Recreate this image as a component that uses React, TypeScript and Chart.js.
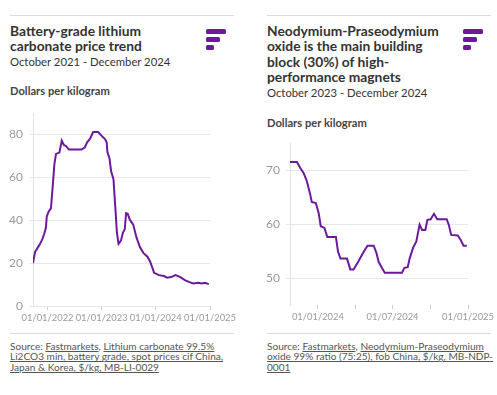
import React, { useEffect, useRef } from 'react';
import { Chart, registerables } from 'chart.js';

Chart.register(...registerables);

const FONT = 'Lato, "Noto Sans", sans-serif';
const PURPLE = '#6B1A9B';

// Battery-grade lithium carbonate, $/kg
const lithiumDates = [
  '2021-09-25', '2021-10-09', '2021-10-25', '2021-11-12', '2021-11-28', '2021-12-09', '2021-12-21', '2021-12-27',
  '2022-01-08', '2022-01-24', '2022-02-04', '2022-02-16', '2022-02-27', '2022-03-22', '2022-04-07', '2022-04-21',
  '2022-05-07', '2022-05-25', '2022-08-17', '2022-09-09', '2022-09-25', '2022-10-13', '2022-11-05', '2022-12-09',
  '2023-01-01', '2023-01-24', '2023-02-04', '2023-02-09', '2023-02-23', '2023-03-06', '2023-03-22', '2023-04-03',
  '2023-04-14', '2023-04-25', '2023-05-11', '2023-05-25', '2023-06-06', '2023-06-15', '2023-06-26', '2023-07-10',
  '2023-08-02', '2023-08-24', '2023-09-16', '2023-10-09', '2023-11-06', '2023-11-24', '2023-12-21', '2024-01-23',
  '2024-02-25', '2024-03-18', '2024-04-14', '2024-05-13', '2024-06-15', '2024-07-18', '2024-08-20', '2024-09-11',
  '2024-10-14', '2024-11-06', '2024-11-28', '2024-12-24',
];
const lithiumValues = [
  20.0, 25.3, 27.0, 29.0, 31.3, 33.5, 36.5, 41.8,
  44.0, 45.6, 55.0, 66.0, 71.0, 71.6, 77.2, 75.2,
  74.6, 73.0, 73.0, 74.0, 76.4, 77.9, 81.2, 81.2,
  79.4, 77.9, 76.4, 71.9, 68.9, 62.9, 59.1, 46.3,
  34.3, 29.0, 30.5, 34.3, 35.8, 43.3, 43.0, 40.3,
  38.0, 32.0, 27.5, 24.8, 23.0, 20.8, 15.5, 14.4,
  14.0, 13.2, 13.5, 14.4, 13.5, 12.0, 11.0, 10.5,
  10.8, 10.5, 10.8, 10.2,
];
const lithiumXTicks = ['2022-01-01', '2023-01-01', '2024-01-01', '2025-01-01'];
const lithiumXLabelled = ['2022-01-01', '2023-01-01', '2024-01-01', '2025-01-01'];
const lithiumYTicks = [0, 20, 40, 60, 80];

// Neodymium-Praseodymium oxide, $/kg
const ndprDates = [
  '2023-10-25', '2023-11-11', '2023-11-19', '2023-11-27', '2023-12-05', '2023-12-13', '2023-12-17', '2023-12-27',
  '2024-01-03', '2024-01-08', '2024-01-17', '2024-01-24', '2024-02-14', '2024-02-19', '2024-02-25', '2024-03-12',
  '2024-03-20', '2024-03-28', '2024-04-09', '2024-04-22', '2024-05-01', '2024-05-16', '2024-05-23', '2024-05-28',
  '2024-06-05', '2024-06-12', '2024-07-24', '2024-07-30', '2024-08-07', '2024-08-12', '2024-08-20', '2024-08-28',
  '2024-09-05', '2024-09-11', '2024-09-19', '2024-09-24', '2024-10-02', '2024-10-10', '2024-10-18', '2024-11-10',
  '2024-11-15', '2024-11-21', '2024-12-07', '2024-12-14', '2024-12-21', '2024-12-29',
];
const ndprValues = [
  71.5, 71.5, 70.4, 69.5, 68.0, 65.6, 64.1, 63.9,
  62.0, 59.6, 59.3, 57.6, 57.6, 54.9, 53.6, 53.6,
  51.6, 51.6, 53.1, 54.9, 56.0, 56.0, 54.6, 53.0,
  51.9, 51.0, 51.0, 51.9, 52.0, 53.7, 55.6, 56.8,
  59.9, 58.9, 58.9, 60.8, 60.9, 61.9, 60.9, 60.9,
  59.9, 58.0, 57.9, 57.1, 56.0, 56.0,
];
const ndprXTicks = ['2024-01-01', '2024-04-01', '2024-07-01', '2024-10-01', '2025-01-01'];
const ndprXLabelled = ['2024-01-01', '2024-07-01', '2025-01-01'];
const ndprYTicks = [50, 60, 70];

const toMs = (s: string) => Date.parse(s + 'T00:00:00Z');
const pad2 = (n: number) => (n < 10 ? '0' + n : '' + n);
const fmt = (ms: number) => {
  const d = new Date(ms);
  return pad2(d.getUTCDate()) + '/' + pad2(d.getUTCMonth() + 1) + '/' + d.getUTCFullYear();
};

type LineProps = {
  dates: string[];
  values: number[];
  xTicks: string[];
  xLabelled: string[];
  yTicks: number[];
  xMin: string;
  xMax: string;
  yMin: number;
  yMax: number;
  width: number;
  height: number;
  padRight: number;
  left: number;
  top: number;
};

function LineChart(p: LineProps) {
  const ref = useRef<HTMLCanvasElement | null>(null);
  useEffect(() => {
    if (!ref.current) return;
    const labelledMs = p.xLabelled.map(toMs);
    const chart = new Chart(ref.current, {
      type: 'line',
      data: {
        datasets: [
          {
            data: p.dates.map((d, i) => ({ x: toMs(d), y: p.values[i] })),
            borderColor: PURPLE,
            borderWidth: 2,
            pointRadius: 0,
            tension: 0,
            fill: false,
          },
        ],
      },
      options: {
        animation: false,
        responsive: false,
        devicePixelRatio: 1,
        layout: { padding: { top: 7, right: p.padRight, left: 0, bottom: 0 } },
        plugins: { legend: { display: false }, tooltip: { enabled: false } },
        scales: {
          x: {
            type: 'linear',
            min: toMs(p.xMin),
            max: toMs(p.xMax),
            afterBuildTicks: (s: any) => {
              s.ticks = p.xTicks.map((t) => ({ value: toMs(t) }));
            },
            afterFit: (s: any) => {
              s.height = 20;
            },
            border: { display: false },
            grid: { drawOnChartArea: false, drawTicks: true, tickLength: 4, color: '#cfcfcf' },
            ticks: {
              autoSkip: false,
              maxRotation: 0,
              padding: 2,
              color: '#9a9a9a',
              font: { family: FONT, size: 9.4 },
              callback: (v: any) => (labelledMs.includes(Number(v)) ? fmt(Number(v)) : ''),
            },
          },
          y: {
            min: p.yMin,
            max: p.yMax,
            afterBuildTicks: (s: any) => {
              s.ticks = p.yTicks.map((v) => ({ value: v }));
            },
            afterFit: (s: any) => {
              s.width = 33;
            },
            border: { display: true, color: '#e2e2e2' },
            grid: { color: '#e8e8e8', tickLength: 4 },
            ticks: {
              padding: 6,
              color: '#9a9a9a',
              font: { family: FONT, size: 12 },
            },
          },
        },
      } as any,
    });
    return () => chart.destroy();
  }, []);
  return (
    <canvas
      ref={ref}
      width={p.width}
      height={p.height}
      style={{ position: 'absolute', left: p.left, top: p.top, width: p.width, height: p.height }}
    />
  );
}

const abs = (o: React.CSSProperties): React.CSSProperties => ({ position: 'absolute', ...o });

function Logo({ left }: { left: number }) {
  const bar = (top: number, w: number): React.CSSProperties =>
    abs({ left, top, width: w, height: 5, background: PURPLE, borderRadius: 1.5 });
  return (
    <>
      <div style={bar(29, 20)} />
      <div style={bar(37, 14)} />
      <div style={bar(45, 7.5)} />
    </>
  );
}

const titleStyle = (left: number): React.CSSProperties =>
  abs({ left, top: 22.5, fontFamily: FONT, fontWeight: 700, fontSize: 13.8, lineHeight: '15.6px', color: '#333', whiteSpace: 'nowrap' });
const subStyle = (left: number, top: number): React.CSSProperties =>
  abs({ left, top, fontFamily: FONT, fontSize: 11.3, lineHeight: '13.2px', color: '#333', whiteSpace: 'nowrap' });
const unitStyle = (left: number, top: number): React.CSSProperties =>
  abs({ left, top, fontFamily: FONT, fontWeight: 700, fontSize: 11.2, lineHeight: '12px', color: '#444', whiteSpace: 'nowrap' });
const srcStyle = (left: number): React.CSSProperties =>
  abs({ left, top: 340.5, fontFamily: FONT, fontSize: 10.1, lineHeight: '10.8px', color: '#555', whiteSpace: 'nowrap' });
const rule = (left: number, top: number): React.CSSProperties =>
  abs({ left, top, width: 224, height: 1, background: '#dcdcdc' });
const u: React.CSSProperties = { textDecoration: 'underline' };

export default function App() {
  return (
    <div style={{ position: 'fixed', left: 0, top: 0, width: 497, height: 395, overflow: 'hidden', background: '#fff' }}>
      {/* Left panel */}
      <div style={rule(10, 15)} />
      <div style={titleStyle(10)}>
        Battery-grade lithium
        <br />
        carbonate price trend
      </div>
      <Logo left={206} />
      <div style={subStyle(10, 55)}>October 2021 - December 2024</div>
      <div style={unitStyle(10, 85)}>Dollars per kilogram</div>
      <LineChart
        dates={lithiumDates}
        values={lithiumValues}
        xTicks={lithiumXTicks}
        xLabelled={lithiumXLabelled}
        yTicks={lithiumYTicks}
        xMin="2021-09-25"
        xMax="2025-01-01"
        yMin={0}
        yMax={90}
        width={245}
        height={226}
        padRight={35}
        left={0}
        top={100}
      />
      <div style={rule(10, 333)} />
      <div style={srcStyle(10)}>
        Source: <span style={u}>Fastmarkets</span>, <span style={u}>Lithium carbonate 99.5%</span>
        <br />
        <span style={u}>Li2CO3 min, battery grade, spot prices cif China,</span>
        <br />
        <span style={u}>Japan &amp; Korea, $/kg, MB-LI-0029</span>
      </div>

      {/* Right panel */}
      <div style={rule(267, 15)} />
      <div style={titleStyle(267)}>
        Neodymium-Praseodymium
        <br />
        oxide is the main building
        <br />
        block (30%) of high-
        <br />
        performance magnets
      </div>
      <Logo left={463} />
      <div style={subStyle(267, 86)}>October 2023 - December 2024</div>
      <div style={unitStyle(267, 116.5)}>Dollars per kilogram</div>
      <LineChart
        dates={ndprDates}
        values={ndprValues}
        xTicks={ndprXTicks}
        xLabelled={ndprXLabelled}
        yTicks={ndprYTicks}
        xMin="2023-10-25"
        xMax="2025-01-01"
        yMin={45}
        yMax={75}
        width={240}
        height={195}
        padRight={29}
        left={257}
        top={130}
      />
      <div style={rule(267, 333)} />
      <div style={srcStyle(267)}>
        Source: <span style={u}>Fastmarkets</span>, <span style={u}>Neodymium-Praseodymium</span>
        <br />
        <span style={u}>oxide 99% ratio (75:25), fob China, $/kg, MB-NDP-</span>
        <br />
        <span style={u}>0001</span>
      </div>
    </div>
  );
}
